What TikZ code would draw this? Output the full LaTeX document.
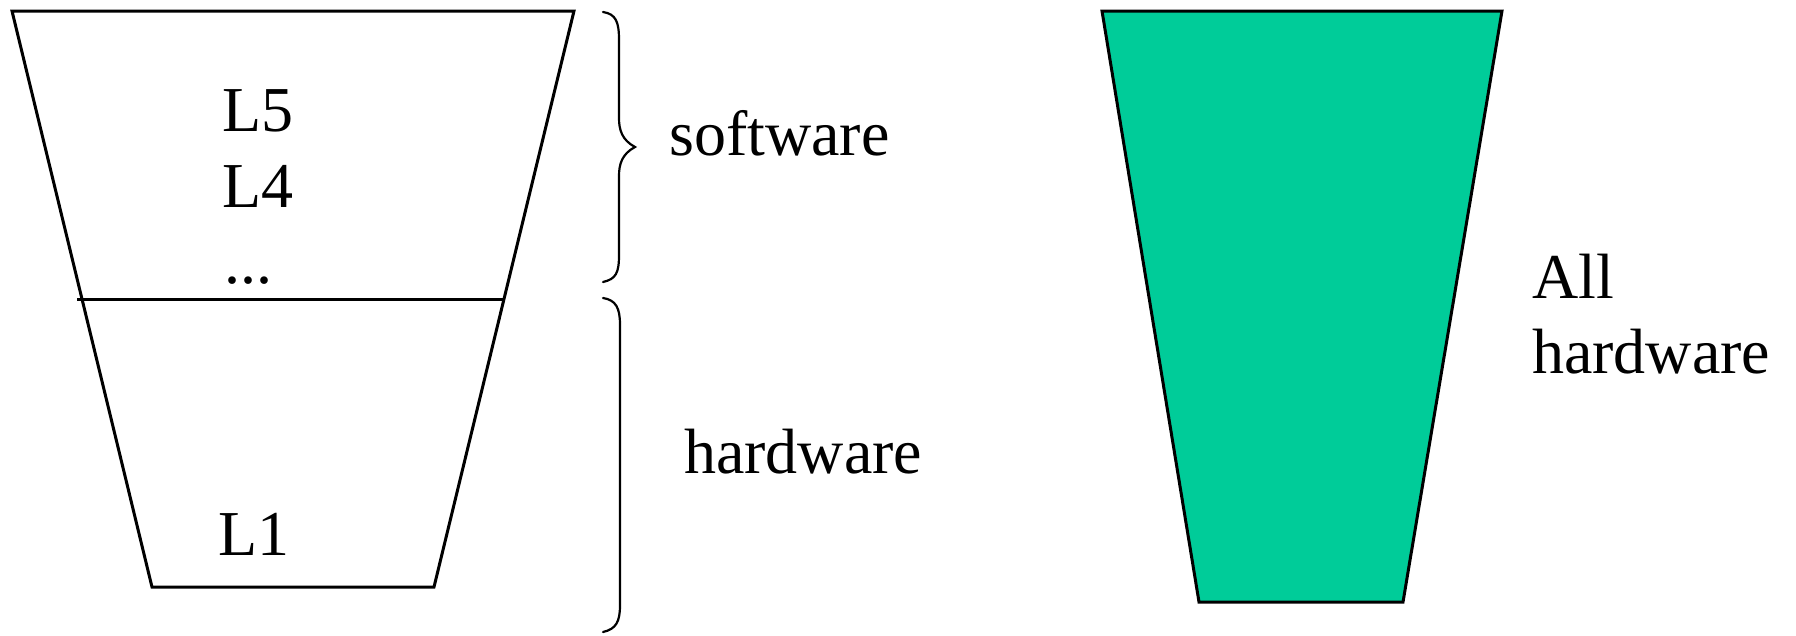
\documentclass[tikz,border=0pt]{standalone}
\usepackage{fontspec}
\setmainfont{Liberation Serif}
\definecolor{hwgreen}{HTML}{00CC99}
\begin{document}
\begin{tikzpicture}[x=1pt,y=-1pt,
  outline/.style={draw=black,line width=3pt,line join=miter},
  bracestroke/.style={draw=black,line width=2.2pt,line cap=round},
  lbl/.style={font=\fontsize{64}{72}\selectfont,inner sep=0pt,anchor=base west}]
\useasboundingbox (0,0) rectangle (1796,635);

% layered machine (left)
\coordinate (tl) at (12,11);
\coordinate (tr) at (574,11);
\coordinate (bl) at (152,587);
\coordinate (br) at (434,587);
\draw[outline] (tl) -- (tr) -- (br) -- (bl) -- cycle;
\coordinate (sl) at (77,299);
\coordinate (sr) at (504,299);
\draw[outline] (sl) -- (sr);

\node[lbl] (l5) at (222,131) {L5};
\node[lbl] (l4) at (222,207) {L4};
\node[lbl] (dots) at (224,283) {...};
\node[lbl] (l1) at (218,555) {L1};

% brace for software
\draw[bracestroke] (603,12) .. controls (616,14) and (619,22) .. (619,40)
  -- (619,118) .. controls (619,130) and (622,140) .. (635,147)
  .. controls (622,154) and (619,164) .. (619,176)
  -- (619,255) .. controls (619,273) and (616,279) .. (603,282);
\node[lbl] (sw) at (669,155) {software};

% bracket for hardware
\draw[bracestroke] (603,298) .. controls (616,300) and (620,308) .. (620,325)
  -- (620,605) .. controls (620,622) and (616,629) .. (603,632);
\node[lbl] (hw) at (684,473) {hardware};

% all-hardware machine (right)
\coordinate (rtl) at (1102,11);
\coordinate (rtr) at (1502,11);
\coordinate (rbl) at (1199,602);
\coordinate (rbr) at (1403,602);
\draw[outline,fill=hwgreen] (rtl) -- (rtr) -- (rbr) -- (rbl) -- cycle;
\node[lbl] (all) at (1532,298) {All};
\node[lbl] (allhw) at (1532,373) {hardware};
\end{tikzpicture}
\end{document}
